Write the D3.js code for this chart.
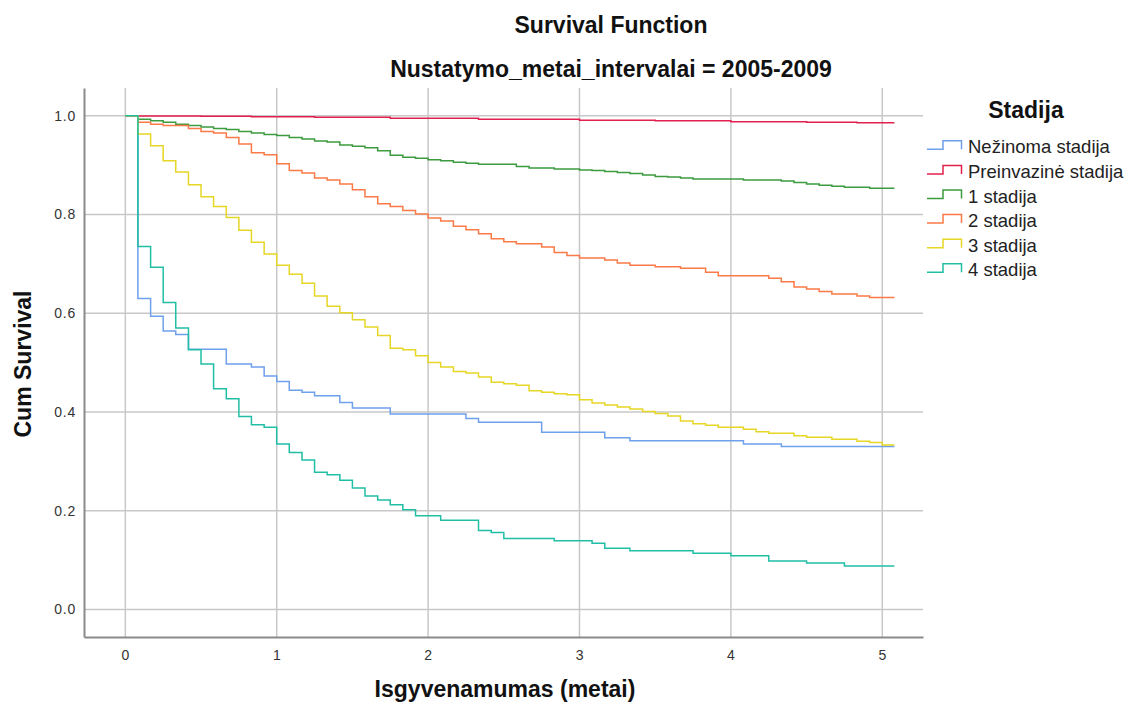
<!DOCTYPE html>
<html>
<head>
<meta charset="utf-8">
<script src="https://cdn.jsdelivr.net/npm/d3@7"></script>
<style>
  body { margin: 0; background: #fff; }
  svg { font-family: "Liberation Sans", Arial, sans-serif; }
</style>
</head>
<body>
<svg id="main-svg" width="1130" height="711"></svg>
<script>
// survival steps [time in years, cum survival]
var nezinoma = [[0,1],[0.083,0.630],[0.167,0.594],[0.25,0.564],[0.333,0.557],[0.417,0.527],[0.667,0.497],
  [0.833,0.491],[0.917,0.473],[1.0,0.462],[1.083,0.444],[1.167,0.440],[1.25,0.433],[1.417,0.419],[1.5,0.408],
  [1.75,0.396],[2.25,0.387],[2.333,0.379],[2.75,0.359],[3.167,0.348],[3.333,0.342],[4.083,0.335],[4.333,0.330],[5.08,0.330]];
var preinvazine = [[0,1],[0.083,0.9995],[0.5,0.999],[0.833,0.998],[1.25,0.997],[1.75,0.995],[2.333,0.993],
  [3.0,0.991],[3.5,0.990],[4.0,0.988],[4.5,0.987],[4.833,0.986],[5.08,0.986]];
var stadija1 = [[0,1],[0.083,0.993],[0.167,0.990],[0.25,0.987],[0.333,0.983],[0.417,0.980],[0.5,0.977],[0.583,0.974],
  [0.667,0.972],[0.75,0.968],[0.833,0.965],[0.917,0.962],[1.0,0.960],[1.083,0.956],[1.167,0.953],[1.25,0.949],
  [1.333,0.947],[1.417,0.941],[1.5,0.938],[1.583,0.935],[1.667,0.929],[1.75,0.920],[1.833,0.916],[1.917,0.914],
  [2.0,0.911],[2.083,0.909],[2.167,0.906],[2.25,0.904],[2.333,0.902],[2.583,0.897],[2.667,0.894],[2.833,0.892],
  [3.0,0.890],[3.083,0.889],[3.167,0.887],[3.25,0.885],[3.333,0.883],[3.417,0.880],[3.5,0.877],[3.583,0.876],
  [3.667,0.874],[3.75,0.872],[4.083,0.870],[4.333,0.868],[4.417,0.865],[4.5,0.862],[4.583,0.859],[4.667,0.857],
  [4.75,0.855],[4.917,0.853],[5.08,0.853]];
var stadija2 = [[0,1],[0.083,0.987],[0.167,0.983],[0.25,0.980],[0.417,0.974],[0.5,0.968],[0.583,0.965],[0.667,0.956],
  [0.75,0.943],[0.833,0.925],[0.917,0.921],[1.0,0.903],[1.083,0.889],[1.167,0.884],[1.25,0.874],[1.333,0.870],
  [1.417,0.862],[1.5,0.850],[1.583,0.836],[1.667,0.822],[1.75,0.816],[1.833,0.808],[1.917,0.801],[2.0,0.793],
  [2.083,0.787],[2.167,0.776],[2.25,0.769],[2.333,0.761],[2.417,0.751],[2.5,0.745],[2.583,0.741],[2.75,0.734],
  [2.833,0.723],[2.917,0.717],[3.0,0.712],[3.167,0.708],[3.25,0.702],[3.333,0.697],[3.5,0.694],[3.667,0.691],
  [3.833,0.683],[3.917,0.676],[4.25,0.671],[4.333,0.664],[4.417,0.653],[4.5,0.649],[4.583,0.644],[4.667,0.639],
  [4.833,0.635],[4.917,0.632],[5.08,0.632]];
var stadija3 = [[0,1],[0.083,0.963],[0.167,0.939],[0.25,0.909],[0.333,0.886],[0.417,0.860],[0.5,0.836],[0.583,0.816],
  [0.667,0.794],[0.75,0.768],[0.833,0.744],[0.917,0.720],[1.0,0.697],[1.083,0.679],[1.167,0.661],[1.25,0.635],
  [1.333,0.614],[1.417,0.601],[1.5,0.587],[1.583,0.572],[1.667,0.555],[1.75,0.529],[1.833,0.526],[1.917,0.514],
  [2.0,0.500],[2.083,0.491],[2.167,0.482],[2.25,0.479],[2.333,0.471],[2.417,0.460],[2.5,0.457],[2.583,0.454],
  [2.667,0.443],[2.75,0.440],[2.833,0.437],[2.917,0.435],[3.0,0.425],[3.083,0.418],[3.167,0.414],[3.25,0.410],
  [3.333,0.406],[3.417,0.401],[3.5,0.397],[3.583,0.392],[3.667,0.382],[3.75,0.376],[3.833,0.373],[3.917,0.369],
  [4.083,0.365],[4.167,0.360],[4.25,0.357],[4.417,0.352],[4.5,0.349],[4.667,0.345],[4.833,0.341],[4.917,0.338],
  [5.0,0.333],[5.08,0.333]];
var stadija4 = [[0,1],[0.083,0.735],[0.167,0.693],[0.25,0.622],[0.333,0.570],[0.417,0.526],[0.5,0.497],[0.583,0.447],
  [0.667,0.427],[0.75,0.391],[0.833,0.374],[0.917,0.369],[1.0,0.335],[1.083,0.318],[1.167,0.303],[1.25,0.278],
  [1.333,0.273],[1.417,0.262],[1.5,0.246],[1.583,0.230],[1.667,0.222],[1.75,0.212],[1.833,0.202],[1.917,0.190],
  [2.083,0.181],[2.333,0.160],[2.417,0.156],[2.5,0.144],[2.833,0.139],[3.083,0.134],[3.167,0.124],[3.333,0.119],
  [3.75,0.114],[4.0,0.109],[4.25,0.098],[4.5,0.094],[4.75,0.088],[5.08,0.088]];

var seriesNames = ["Nežinoma stadija", "Preinvazinė stadija", "1 stadija", "2 stadija", "3 stadija", "4 stadija"];
var seriesData = [nezinoma, preinvazine, stadija1, stadija2, stadija3, stadija4];
var seriesColors = ["#6fa0ec", "#e2204e", "#3c9a3f", "#fb7a47", "#e6d625", "#20bfa5"];
var xTicks = [0, 1, 2, 3, 4, 5];
var yTicks = [0.0, 0.2, 0.4, 0.6, 0.8, 1.0];

var svg = d3.select("#main-svg");

// plot frame (note: "top" is taken by window.top)
var plotLeft = 84, plotRight = 923, plotTop = 88, plotBottom = 637;
var x = d3.scaleLinear().domain([-0.273, 5.269]).range([plotLeft, plotRight]);
var y = d3.scaleLinear().domain([-0.0557, 1.0562]).range([plotBottom, plotTop]);

// titles
svg.append("text").attr("x", 611).attr("y", 33).attr("text-anchor", "middle")
    .style("font-weight", "bold").style("font-size", "23px").attr("fill", "#111")
    .text("Survival Function");
svg.append("text").attr("x", 611).attr("y", 77).attr("text-anchor", "middle")
    .style("font-weight", "bold").style("font-size", "23px").attr("fill", "#111")
    .text("Nustatymo_metai_intervalai = 2005-2009");

// grid
var grid = svg.append("g");
grid.selectAll("line.h").data(yTicks).enter().append("line")
    .attr("x1", plotLeft).attr("x2", plotRight)
    .attr("y1", function (d) { return y(d); }).attr("y2", function (d) { return y(d); })
    .attr("stroke", "#c8c8c8").attr("stroke-width", 1.5);
grid.selectAll("line.v").data(xTicks).enter().append("line")
    .attr("y1", plotTop).attr("y2", plotBottom)
    .attr("x1", function (d) { return x(d); }).attr("x2", function (d) { return x(d); })
    .attr("stroke", "#c8c8c8").attr("stroke-width", 1.5);

// axes
var xAxis = svg.append("g").attr("transform", "translate(0," + plotBottom + ")")
    .call(d3.axisBottom(x).tickValues(xTicks).tickSize(0).tickPadding(13).tickFormat(d3.format("d")));
var yAxis = svg.append("g").attr("transform", "translate(" + plotLeft + ",0)")
    .call(d3.axisLeft(y).tickValues(yTicks).tickSize(0).tickPadding(8).tickFormat(d3.format(".1f")));
[xAxis, yAxis].forEach(function (a) {
    a.select(".domain").attr("stroke", "#8a8a8a").attr("stroke-width", 2);
    a.selectAll("text").style("font-size", "14px").style("font-family", "Liberation Sans, Arial, sans-serif")
        .style("letter-spacing", "0.8px").attr("fill", "#333");
});

svg.append("text").attr("x", 505).attr("y", 697).attr("text-anchor", "middle")
    .style("font-weight", "bold").style("font-size", "23px").attr("fill", "#111")
    .text("Isgyvenamumas (metai)");
svg.append("text").attr("transform", "translate(31,364) rotate(-90)").attr("text-anchor", "middle")
    .style("font-weight", "bold").style("font-size", "23px").attr("fill", "#111")
    .text("Cum Survival");

// curves
var line = d3.line()
    .x(function (d) { return x(d[0]); })
    .y(function (d) { return y(d[1]); })
    .curve(d3.curveStepAfter);
var curves = svg.append("g");
seriesData.forEach(function (s, i) {
    curves.append("path").attr("d", line(s)).attr("fill", "none")
        .attr("stroke", seriesColors[i]).attr("stroke-width", 1.5);
});

// legend
var legend = svg.append("g");
legend.append("text").attr("x", 1026).attr("y", 118).attr("text-anchor", "middle")
    .style("font-weight", "bold").style("font-size", "23px").attr("fill", "#111")
    .text("Stadija");
seriesNames.forEach(function (name, i) {
    var base = 153.3 + i * 24.6;
    legend.append("path")
        .attr("d", "M927," + (base - 4) + "H943V" + (base - 12.5) + "H961.5V" + (base - 4))
        .attr("fill", "none").attr("stroke", seriesColors[i]).attr("stroke-width", 1.5);
    legend.append("text").attr("x", 968).attr("y", base)
        .style("font-size", "18.5px").attr("fill", "#222")
        .text(name);
});
</script>
</body>
</html>
